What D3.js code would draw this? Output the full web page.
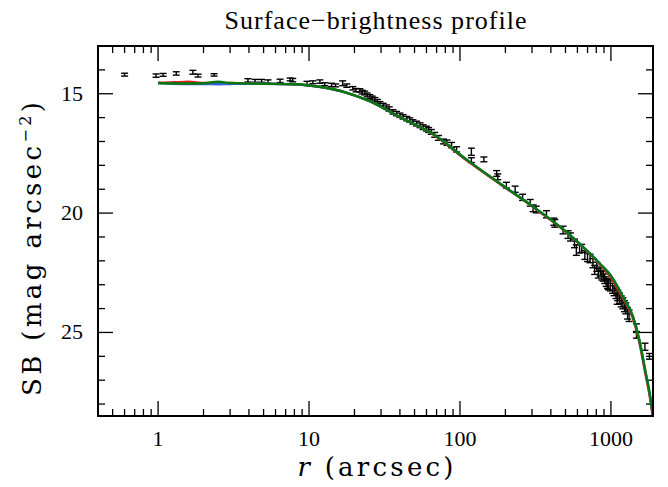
<!DOCTYPE html>
<html>
<head>
<meta charset="utf-8">
<script src="https://cdn.jsdelivr.net/npm/d3@7"></script>
<style>
  body { margin: 0; background: #fff; }
  svg { display: block; }
  text { font-family: "Liberation Serif", "DejaVu Serif", serif; fill: #000; }
  .ttl { font-family: "DejaVu Serif", serif; }
</style>
</head>
<body>
<svg id="chart" width="668" height="487"></svg>
<script>
// observed profile: radius (arcsec), surface brightness, error (mag)
const rData = [0.60, 0.97, 1.08, 1.32, 1.70, 1.84, 2.35, 3.94, 4.39, 4.85, 5.35, 6.43, 7.5, 7.8,
  9.7, 10.6, 11.8, 12.7, 14.1, 15.0, 16.7, 17.8, 19.5, 21.7, 23.4, 25.3, 27.3, 29.5, 32.6, 36.0,
  40.0, 44.4, 48.8, 54.4, 60.0, 64.6, 77.8, 88.0, 95.0, 119, 119, 144, 175, 178, 203, 232, 260,
  292, 305, 320, 374, 419, 425, 482, 520, 540, 574, 590, 640, 672, 727, 760, 780, 806, 825, 890,
  930, 960, 1025, 1080, 1140, 1200, 1255, 1290, 1475, 1475, 1680, 1800,
  20.5, 22.5, 24.3, 26.2, 28.4, 31, 34, 38, 42, 46.5, 51.5, 57, 62, 68, 72, 82,
  620, 700, 850, 870, 910, 950, 990, 1050, 1100, 1110, 1170, 1230, 1320];
const sbData = [14.20, 14.24, 14.21, 14.15, 14.10, 14.24, 14.21, 14.44, 14.46, 14.46, 14.49, 14.46, 14.40, 14.43,
  14.55, 14.52, 14.49, 14.60, 14.63, 14.65, 14.56, 14.66, 14.77, 14.86, 14.97, 15.12, 15.24, 15.41, 15.55, 15.76,
  15.90, 16.04, 16.18, 16.32, 16.46, 16.60, 17.00, 17.15, 17.33, 17.43, 17.78, 17.75, 18.34, 18.48, 18.83, 19.00, 19.34,
  19.57, 19.80, 19.85, 20.05, 20.36, 20.43, 20.71, 20.90, 21.00, 21.27, 21.55, 21.48, 21.76, 21.90, 22.10, 22.38, 22.25, 22.52, 22.65,
  22.87, 23.00, 23.15, 23.36, 23.57, 23.78, 23.99, 24.20, 24.82, 25.10, 25.60, 26.00,
  14.85, 14.93, 15.05, 15.18, 15.32, 15.48, 15.64, 15.83, 15.97, 16.10, 16.25, 16.40, 16.52, 16.72, 16.85, 17.05,
  21.50, 21.85, 22.45, 22.60, 22.75, 22.95, 23.05, 23.25, 23.60, 23.45, 23.70, 23.90, 24.30];
const errData = [0.06, 0.07, 0.06, 0.07, 0.08, 0.06, 0.05, 0.07, 0.06, 0.06, 0.07, 0.07, 0.06, 0.07,
  0.07, 0.06, 0.07, 0.06, 0.07, 0.06, 0.10, 0.07, 0.07, 0.07, 0.08, 0.08, 0.08, 0.08, 0.08, 0.09,
  0.09, 0.09, 0.09, 0.10, 0.10, 0.10, 0.10, 0.11, 0.11, 0.15, 0.10, 0.10, 0.12, 0.12, 0.12, 0.13, 0.13,
  0.14, 0.14, 0.14, 0.15, 0.15, 0.16, 0.16, 0.16, 0.17, 0.18, 0.22, 0.17, 0.18, 0.18, 0.19, 0.19, 0.19, 0.20, 0.20,
  0.20, 0.21, 0.21, 0.22, 0.22, 0.23, 0.23, 0.24, 0.18, 0.14, 0.15, 0.12,
  0.07, 0.08, 0.08, 0.08, 0.08, 0.08, 0.09, 0.09, 0.09, 0.09, 0.10, 0.10, 0.10, 0.10, 0.10, 0.11,
  0.17, 0.18, 0.19, 0.20, 0.20, 0.20, 0.21, 0.21, 0.22, 0.22, 0.23, 0.23, 0.24];

// model fits
const modelR = [1, 1.3, 1.6, 2, 2.5, 3, 4, 5, 8, 12, 18, 25, 40, 66, 110, 184, 305, 505, 840, 1000, 1200, 1400, 1540, 1700, 1800, 1900];
const modelGreen = [14.55, 14.57, 14.57, 14.56, 14.50, 14.55, 14.57, 14.58, 14.60, 14.72, 14.97, 15.30, 15.98, 16.68, 17.75, 18.76, 19.73, 20.78, 22.10, 22.62, 23.50, 24.34, 25.30, 26.70, 27.50, 28.50];
const modelRed = [14.55, 14.52, 14.50, 14.55, 14.56, 14.55, 14.57, 14.58, 14.60, 14.72, 14.97, 15.30, 15.98, 16.70, 17.78, 18.78, 19.75, 20.80, 22.14, 22.70, 23.58, 24.42, 25.40, 26.80, 27.60, 28.60];
const modelBlue = [14.55, 14.58, 14.59, 14.59, 14.60, 14.59, 14.58, 14.58, 14.60, 14.72, 14.97, 15.30, 15.98, 16.68, 17.75, 18.76, 19.73, 20.78, 22.10, 22.62, 23.50, 24.34, 25.30, 26.70, 27.50, 28.50];

const xMajor = [1, 10, 100, 1000];
const yMajor = [15, 20, 25];

const svg = d3.select("#chart");
const mLeft = 98, mRight = 653, mTop = 46, mBottom = 416;

const x = d3.scaleLog().domain([0.4, 1900]).range([mLeft, mRight]);
const y = d3.scaleLinear().domain([13, 28.5]).range([mTop, mBottom]);

const plot = svg.append("g");
svg.append("clipPath").attr("id", "clip")
  .append("rect").attr("x", mLeft).attr("y", mTop).attr("width", mRight - mLeft).attr("height", mBottom - mTop);

// minor ticks
const xMinor = [];
[0.1, 1, 10, 100, 1000].forEach(d => {
  for (let k = 2; k <= 9; k++) {
    const v = d * k;
    if (v > 0.4 && v < 1900) xMinor.push(v);
  }
});
const yMinor = d3.range(14, 29).filter(v => !yMajor.includes(v));

const ticks = plot.append("g").attr("stroke", "#000").attr("stroke-width", 1.3);
function vTicks(vals, len) {
  vals.forEach(v => {
    ticks.append("line").attr("x1", x(v)).attr("x2", x(v)).attr("y1", mBottom).attr("y2", mBottom - len);
    ticks.append("line").attr("x1", x(v)).attr("x2", x(v)).attr("y1", mTop).attr("y2", mTop + len);
  });
}
function hTicks(vals, len) {
  vals.forEach(v => {
    ticks.append("line").attr("y1", y(v)).attr("y2", y(v)).attr("x1", mLeft).attr("x2", mLeft + len);
    ticks.append("line").attr("y1", y(v)).attr("y2", y(v)).attr("x1", mRight).attr("x2", mRight - len);
  });
}
vTicks(xMajor, 15);
vTicks(xMinor, 7);
hTicks(yMajor, 15);
hTicks(yMinor, 7);

// error bars
const pts = rData.map((r, i) => ({ r: r, sb: sbData[i], e: errData[i] }));
const eb = plot.append("g").attr("stroke", "#000").attr("stroke-width", 1.4).attr("clip-path", "url(#clip)");
pts.forEach(d => {
  const cx = x(d.r), y0 = y(d.sb - d.e), y1 = y(d.sb + d.e);
  eb.append("line").attr("x1", cx).attr("x2", cx).attr("y1", y0).attr("y2", y1);
  eb.append("line").attr("x1", cx - 3.5).attr("x2", cx + 3.5).attr("y1", y0).attr("y2", y0);
  eb.append("line").attr("x1", cx - 3.5).attr("x2", cx + 3.5).attr("y1", y1).attr("y2", y1);
});

// model curves
const line = d3.line().x(d => x(d[0])).y(d => y(d[1])).curve(d3.curveMonotoneX);
const models = [[modelRed, "#e02020"], [modelBlue, "#3060e0"], [modelGreen, "#087808"]];
models.forEach(([vals, col]) => {
  plot.append("path")
    .datum(modelR.map((r, i) => [r, vals[i]]))
    .attr("d", line)
    .attr("fill", "none")
    .attr("stroke", col)
    .attr("stroke-width", 2.4)
    .attr("clip-path", "url(#clip)");
});

// frame
plot.append("rect").attr("x", mLeft).attr("y", mTop).attr("width", mRight - mLeft).attr("height", mBottom - mTop)
  .attr("fill", "none").attr("stroke", "#000").attr("stroke-width", 2);

// tick labels
svg.append("g").selectAll("text").data(xMajor).join("text")
  .attr("x", d => x(d)).attr("y", 446)
  .attr("text-anchor", "middle").attr("font-size", 22)
  .text(d => d);
svg.append("g").selectAll("text").data(yMajor).join("text")
  .attr("x", 83).attr("y", d => y(d) + 7)
  .attr("text-anchor", "end").attr("font-size", 22)
  .text(d => d);

// titles
svg.append("text").attr("x", (mLeft + mRight) / 2).attr("y", 29)
  .attr("text-anchor", "middle").attr("font-size", 26)
  .attr("textLength", 302).attr("lengthAdjust", "spacing")
  .text("Surface\u2212brightness profile");

const xt = svg.append("text").attr("class", "ttl").attr("x", (mLeft + mRight) / 2).attr("y", 476)
  .attr("text-anchor", "middle").attr("font-size", 26)
  .attr("textLength", 156).attr("lengthAdjust", "spacing");
xt.append("tspan").attr("font-style", "italic").text("r");
xt.append("tspan").text(" (arcsec)");

const yt = svg.append("text").attr("class", "ttl").attr("transform", "translate(41,249) rotate(-90)")
  .attr("text-anchor", "middle").attr("font-size", 26)
  .attr("textLength", 294).attr("lengthAdjust", "spacing");
yt.append("tspan").text("SB (mag arcsec");
yt.append("tspan").attr("font-size", 16).attr("dy", -10).text("\u22122");
yt.append("tspan").attr("dy", 10).text(")");
</script>
</body>
</html>
